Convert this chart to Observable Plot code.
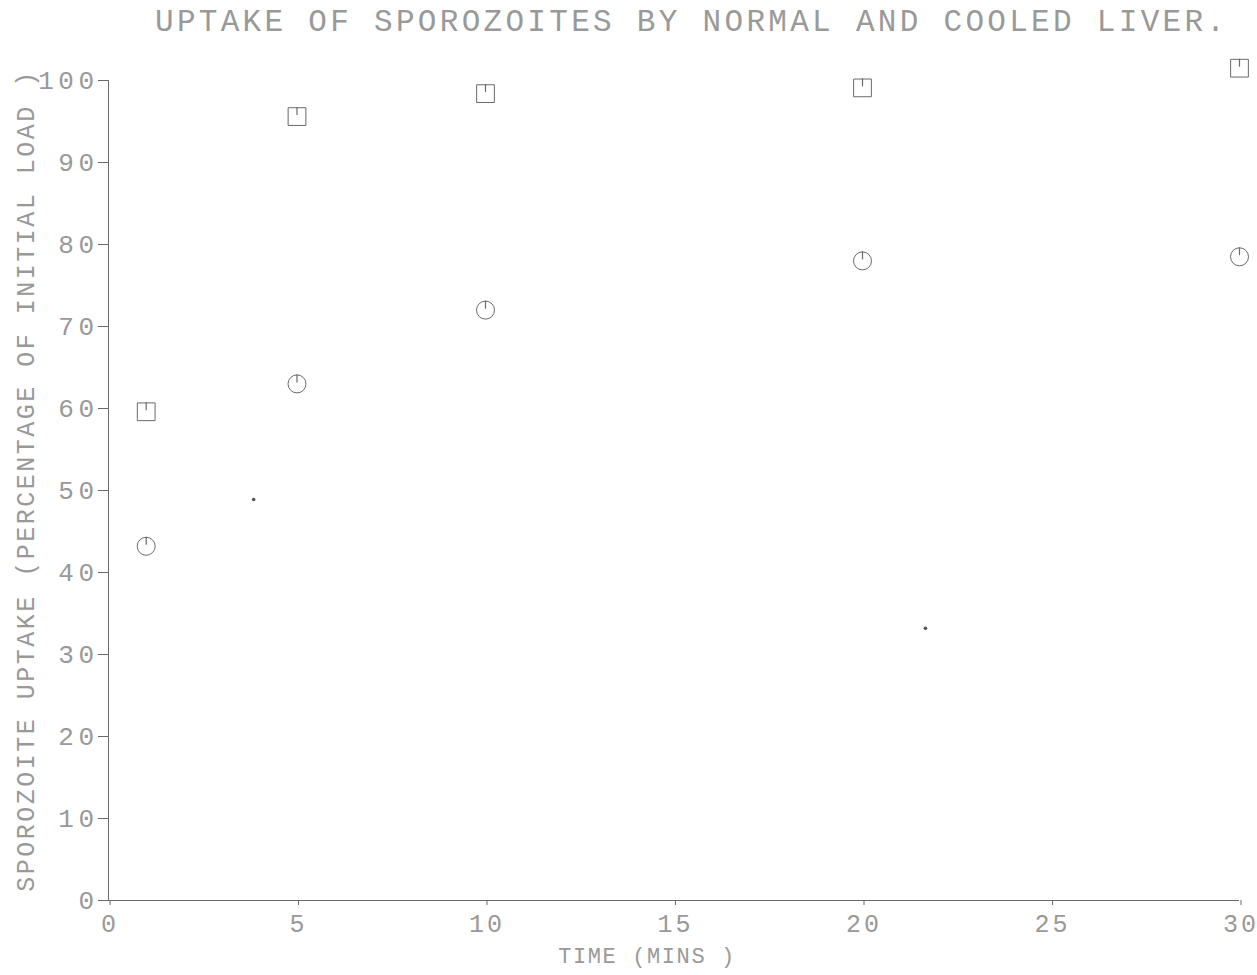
<!DOCTYPE html>
<html>
<head>
<meta charset="utf-8">
<script src="https://cdn.jsdelivr.net/npm/d3@7"></script>
<script src="https://cdn.jsdelivr.net/npm/@observablehq/plot@0.6"></script>
<style>
  html, body { margin: 0; padding: 0; background: #fff; }
  #title {
    height: 45px; line-height: 45px; margin: 0;
    padding-left: 155px;
    font-family: "Liberation Mono", "DejaVu Sans Mono", monospace;
    font-size: 31px; letter-spacing: 3.3px; color: #999; white-space: nowrap;
  }
</style>
</head>
<body>
<div id="title">UPTAKE OF SPOROZOITES BY NORMAL AND COOLED LIVER.</div>
<div id="chart"></div>
<script>
// Time points (minutes)
const times = [1, 5, 10, 20, 30];
// Normal liver (squares)
const normal = [59.6, 95.6, 98.4, 99.1, 101.5];
// Cooled liver (circles)
const cooled = [43.2, 63.0, 72.0, 78.0, 78.5];
// Stray specks on the original scan
const speckX = [3.85, 21.67];
const speckY = [48.9, 33.2];

const xTicks = [0, 5, 10, 15, 20, 25, 30];
const yTicks = [0, 10, 20, 30, 40, 50, 60, 70, 80, 90, 100];
const xLabel = "TIME (MINS )";
const yLabel = "SPOROZOITE UPTAKE (PERCENTAGE OF INITIAL LOAD )";

const normalData = times.map((t, i) => ({t, v: normal[i]}));
const cooledData = times.map((t, i) => ({t, v: cooled[i]}));
const specks = speckX.map((x, i) => ({x, y: speckY[i]}));

const ink = "#6a6a6a";
const txt = "#999";
const font = "'Liberation Mono', 'DejaVu Sans Mono', monospace";

const chart = Plot.plot({
  width: 1257,
  height: 930,
  marginLeft: 108,
  marginRight: 18,
  marginTop: 35,
  marginBottom: 75,
  style: {fontFamily: font, color: txt, background: "#fff", overflow: "visible"},
  x: {domain: [0, 30]},
  y: {domain: [0, 100]},
  marks: [
    Plot.ruleY([0], {stroke: ink, strokeWidth: 1}),
    Plot.ruleX([0], {stroke: ink, strokeWidth: 1}),
    Plot.axisX({ticks: xTicks, tickSize: 5, tickPadding: 9, stroke: ink, fill: txt, fontSize: 25, dx: 1.5, label: null, tickFormat: d => String(d)}),
    Plot.axisY({ticks: yTicks, tickSize: 10, tickPadding: 0, stroke: ink, fill: txt, fontSize: 26, label: null, tickFormat: d => String(d)}),
    Plot.dot(normalData, {x: "t", y: "v", symbol: "square", r: 10, stroke: ink, strokeWidth: 1, fill: "none"}),
    Plot.ruleX(normalData, {x: "t", y1: "v", y2: "v", insetTop: -9, insetBottom: 1, stroke: ink, strokeWidth: 1.2}),
    Plot.dot(cooledData, {x: "t", y: "v", symbol: "circle", r: 9, stroke: ink, strokeWidth: 1, fill: "none"}),
    Plot.ruleX(cooledData, {x: "t", y1: "v", y2: "v", insetTop: -9, insetBottom: 1, stroke: ink, strokeWidth: 1.2}),
    Plot.dot(specks, {x: "x", y: "y", r: 1.8, fill: "#555", stroke: "none"}),
    Plot.text([xLabel], {frameAnchor: "bottom", textAnchor: "middle", dy: 62, dx: -27, fontSize: 22, fill: txt}),
    Plot.text([yLabel], {frameAnchor: "left", textAnchor: "middle", rotate: -90, dx: -83, dy: -10, fontSize: 25, fill: txt})
  ]
});
const svg = d3.select(chart);
svg.selectAll("g[aria-label='y-axis tick label'] text").attr("letter-spacing", 4.5);
svg.selectAll("g[aria-label='x-axis tick label'] text").attr("letter-spacing", 3);
svg.selectAll("text").filter(function() { return this.textContent === xLabel; }).attr("letter-spacing", 1.6);
svg.selectAll("text").filter(function() { return this.textContent === yLabel; }).attr("letter-spacing", 2.5);
document.getElementById("chart").appendChild(chart);
</script>
</body>
</html>
